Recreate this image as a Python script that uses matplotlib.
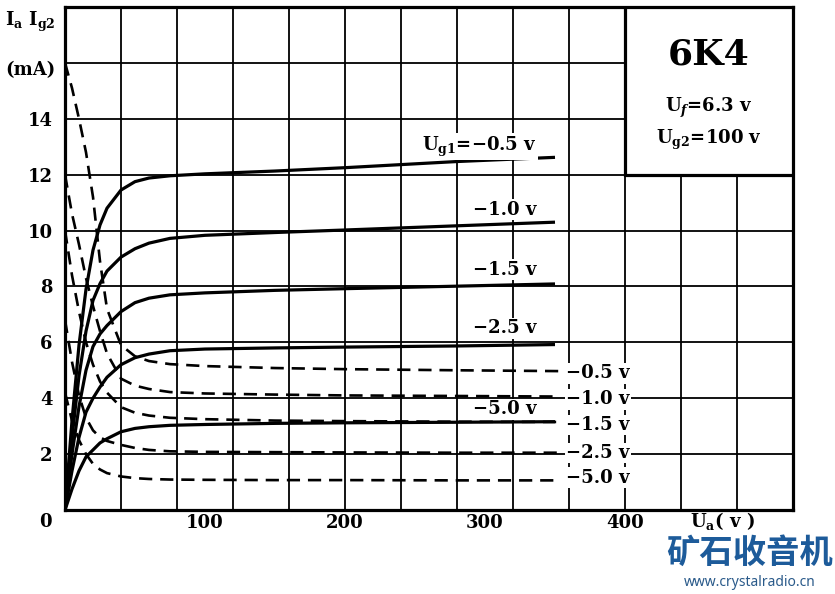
import numpy as np
import matplotlib.pyplot as plt
from matplotlib.patches import Rectangle

plt.rcParams['font.family'] = ['DejaVu Serif']
plt.rcParams['font.weight'] = 'bold'
plt.rcParams['mathtext.fontset'] = 'custom'
plt.rcParams['mathtext.rm'] = 'DejaVu Serif:bold'
plt.rcParams['mathtext.it'] = 'DejaVu Serif:italic:bold'
plt.rcParams['mathtext.bf'] = 'DejaVu Serif:bold'

# plate current Ia (solid), anode voltage in V, current in mA
ua_a = [0, 5, 10, 15, 20, 25, 30, 40, 50, 60, 75, 100, 150, 200, 280, 350]
ia_05 = [0, 3.2, 5.9, 7.9, 9.3, 10.2, 10.8, 11.45, 11.75, 11.88, 11.96, 12.03, 12.13, 12.25, 12.47, 12.62]
ia_10 = [0, 2.6, 4.8, 6.4, 7.5, 8.1, 8.55, 9.05, 9.35, 9.55, 9.72, 9.83, 9.93, 10.02, 10.17, 10.3]
ia_15 = [0, 2.0, 3.7, 5.0, 5.85, 6.3, 6.6, 7.1, 7.42, 7.58, 7.7, 7.77, 7.86, 7.92, 8.01, 8.09]
ia_25 = [0, 1.4, 2.6, 3.5, 4.0, 4.4, 4.75, 5.2, 5.45, 5.58, 5.7, 5.76, 5.8, 5.83, 5.87, 5.92]
ia_50 = [0, 0.75, 1.4, 1.9, 2.15, 2.4, 2.55, 2.8, 2.92, 2.98, 3.03, 3.06, 3.1, 3.12, 3.14, 3.16]

# screen current Ig2 (dashed)
ua_g = [0, 5, 10, 15, 20, 25, 30, 40, 50, 60, 75, 100, 150, 200, 280, 353]
ig_05 = [16.0, 15.1, 14.0, 12.8, 11.2, 8.9, 7.2, 5.9, 5.5, 5.33, 5.22, 5.15, 5.08, 5.04, 5.0, 4.97]
ig_10 = [12.0, 10.6, 9.5, 8.3, 7.3, 6.4, 5.6, 4.7, 4.45, 4.33, 4.22, 4.17, 4.13, 4.1, 4.08, 4.06]
ig_15 = [10.0, 8.4, 7.1, 6.0, 5.2, 4.6, 4.2, 3.68, 3.48, 3.38, 3.3, 3.25, 3.2, 3.18, 3.16, 3.15]
ig_25 = [6.8, 5.3, 4.1, 3.3, 2.85, 2.6, 2.47, 2.33, 2.22, 2.15, 2.1, 2.08, 2.07, 2.06, 2.05, 2.05]
ig_50 = [4.2, 3.2, 2.5, 2.0, 1.65, 1.45, 1.32, 1.2, 1.14, 1.11, 1.09, 1.08, 1.07, 1.07, 1.06, 1.06]

ia_labels = ['U$_\\mathrm{g1}$=\u22120.5 v', '\u22121.0 v', '\u22121.5 v', '\u22122.5 v', '\u22125.0 v']
ia_label_y = [13.0, 10.75, 8.6, 6.5, 3.6]
ig_labels = ['\u22120.5 v', '\u22121.0 v', '\u22121.5 v', '\u22122.5 v', '\u22125.0 v']
ig_label_y = [4.9, 3.97, 3.04, 2.04, 1.15]
ytick_vals = [2, 4, 6, 8, 10, 12, 14]
xtick_vals = [100, 200, 300, 400]
xgrid = np.arange(40, 520, 40)
ygrid = np.arange(2, 18, 2)

fig = plt.figure(figsize=(8.35, 5.94), dpi=100)
ax = fig.add_axes([65 / 835, 84 / 594, 728 / 835, 503 / 594])
ax.set_xlim(0, 520)
ax.set_ylim(0, 18)

# grid paper
ax.vlines(xgrid, 0, 18, color='black', lw=1.3, zorder=0.5)
ax.hlines(ygrid, 0, 520, color='black', lw=1.3, zorder=0.5)

ax.set_xticks(xtick_vals)
ax.set_yticks(ytick_vals)
ax.tick_params(length=0, labelsize=13)
ax.tick_params(axis='y', pad=9)
ax.tick_params(axis='x', pad=3)
for s in ax.spines.values():
    s.set_linewidth(2.3)

for y in [ia_05, ia_10, ia_15, ia_25, ia_50]:
    ax.plot(ua_a, y, color='black', lw=2.3, solid_capstyle='butt')
for y in [ig_05, ig_10, ig_15, ig_25, ig_50]:
    ax.plot(ua_g, y, color='black', lw=1.9, linestyle=(0, (5, 3)))

box = dict(facecolor='white', edgecolor='none', pad=1)
for lab, y in zip(ia_labels, ia_label_y):
    ax.text(337, y, lab, ha='right', va='center', fontsize=13, bbox=box, zorder=4)
for lab, y in zip(ig_labels, ig_label_y):
    ax.text(358, y, lab, ha='left', va='center', fontsize=13, bbox=box, zorder=4)

# title box
ax.add_patch(Rectangle((400, 12), 120, 6, facecolor='white', edgecolor='black', lw=2.3, zorder=3))
ax.text(460, 16.3, '6K4', ha='center', va='center', fontsize=26, zorder=4)
ax.text(460, 14.4, 'U$_{\\it f}$=6.3 v', ha='center', va='center', fontsize=13, zorder=4)
ax.text(460, 13.25, 'U$_\\mathrm{g2}$=100 v', ha='center', va='center', fontsize=13, zorder=4)

# axis captions
fig.text(30 / 835, 1 - 22 / 594, 'I$_\\mathrm{a}$ I$_\\mathrm{g2}$', ha='center', va='center', fontsize=13)
fig.text(30 / 835, 1 - 70 / 594, '(mA)', ha='center', va='center', fontsize=13)
fig.text(45 / 835, 1 - 522 / 594, '0', ha='center', va='center', fontsize=13)
fig.text(722 / 835, 1 - 521 / 594, 'U$_\\mathrm{a}$( v )', ha='center', va='center', fontsize=13)

# watermark
fig.text(750 / 835, 1 - 553 / 594, '矿石收音机', ha='center', va='center', fontsize=24,
         color='#1d5b9a', family=['Noto Sans CJK SC'], weight='bold')
fig.text(750 / 835, 1 - 583 / 594, 'www.crystalradio.cn', ha='center', va='center', fontsize=10,
         color='#2a5a8a', family=['Noto Sans'], weight='normal')

fig.savefig('out.png', dpi=100)
